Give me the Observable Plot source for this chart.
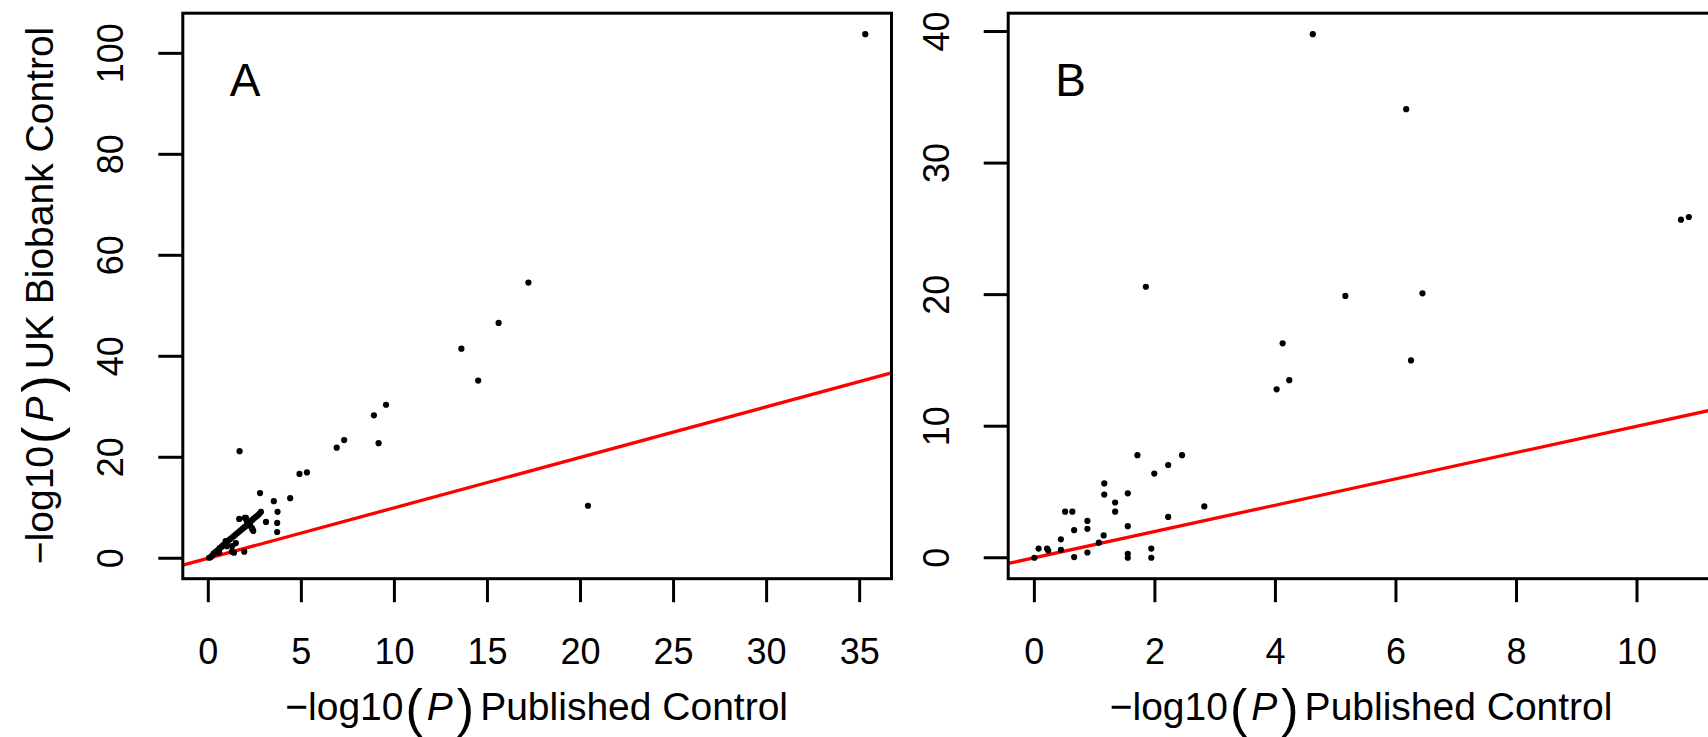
<!DOCTYPE html>
<html>
<head>
<meta charset="utf-8">
<script src="https://cdn.jsdelivr.net/npm/d3@7"></script>
<script src="https://cdn.jsdelivr.net/npm/@observablehq/plot@0.6"></script>
<style>
html, body { margin: 0; padding: 0; background: #fff; overflow: hidden; }
#wrap { position: relative; width: 1708px; height: 737px; overflow: hidden; background: #fff; }
#wrap svg { position: absolute; top: 0; }
#wrap svg g[aria-label^="x-axis"] path, #wrap svg g[aria-label^="y-axis"] path,
#wrap svg g[aria-label^="x-axis"] line, #wrap svg g[aria-label^="y-axis"] line { stroke-width: 3px; stroke: #000; }
</style>
</head>
<body>
<div id="wrap"></div>
<script>
// ---------- data ----------
const panelLabels = ["A", "B"];
const xTitleRest = "Published Control";
const yTitleRest = "UK Biobank Control";

// Panel A: -log10(P) published control (x) vs UK Biobank control (y)
const xA = [35.3, 17.2, 15.6, 13.6, 14.5, 9.55, 8.9, 9.15, 7.3, 6.9, 1.68, 4.9, 5.3, 20.4,
  2.78, 3.52, 4.4, 3.72, 3.1, 3.7, 3.7, 1.66, 2.02, 1.93, 1.27, 1.48,
  0.04, 0.12, 0.2, 0.28, 0.35, 0.45, 0.55, 0.62, 0.72, 0.8, 0.9, 1.0, 1.08, 1.18, 1.28, 1.38,
  1.47, 1.56, 1.66, 1.76, 1.86, 1.96, 2.06, 2.16, 2.26, 2.36, 2.46, 2.56, 2.66, 2.74, 2.83,
  1.96, 2.06, 2.16, 2.26, 2.36, 2.42, 0.58, 1.0, 1.28, 1.38, 0.93, 2.37];
const yA = [103.8, 54.6, 46.6, 41.5, 35.2, 30.4, 28.3, 22.8, 23.4, 21.9, 21.2, 16.7, 17.0, 10.4,
  12.9, 11.3, 11.9, 9.2, 7.2, 7.0, 5.2, 7.8, 8.0, 1.3, 1.3, 3.0,
  0.1, 0.2, 0.5, 0.9, 1.1, 1.4, 1.7, 2.0, 2.3, 2.6, 2.9, 3.2, 3.5, 3.8, 4.1, 4.4,
  4.7, 5.0, 5.3, 5.6, 5.9, 6.2, 6.5, 6.9, 7.2, 7.6, 7.9, 8.2, 8.5, 8.8, 9.2,
  8.0, 7.5, 7.0, 6.4, 5.9, 5.4, 1.1, 2.4, 2.4, 1.1, 3.4, 5.7];

// Panel B
const xB = [4.62, 6.17, 10.73, 10.86, 1.85, 5.16, 6.44, 4.12, 6.25, 4.23, 4.02,
  1.71, 2.45, 2.22, 1.99, 1.16, 1.16, 1.55, 1.34, 1.34, 0.51, 0.63, 2.82, 2.22,
  0.88, 0.88, 0.66, 1.55, 1.15, 1.07, 0.44, 0.07, 0.21, 0.23, 0.44, 0.88, 0.0,
  0.66, 1.55, 1.55, 1.94, 1.94];
const yB = [39.8, 34.1, 25.7, 25.9, 20.6, 19.9, 20.1, 16.3, 15.0, 13.5, 12.8,
  7.8, 7.8, 7.05, 6.4, 5.65, 4.8, 4.9, 4.2, 3.5, 3.5, 3.5, 3.9, 3.1,
  2.8, 2.2, 2.1, 2.4, 1.7, 1.15, 1.4, 0.7, 0.7, 0.55, 0.6, 0.4, 0.0,
  0.05, 0.3, 0.0, 0.7, 0.0];

const xTicksA = [0, 5, 10, 15, 20, 25, 30, 35];
const yTicksA = [0, 20, 40, 60, 80, 100];
const xTicksB = [0, 2, 4, 6, 8, 10];
const yTicksB = [0, 10, 20, 30, 40];

// ---------- helpers ----------
const FONT = "'Liberation Sans', Arial, Helvetica, sans-serif";
const H = 737, MT = 12.7, MB = 158.8;

function rangeExt(arr) { // R's default 4% axis extension
  const lo = d3.min(arr), hi = d3.max(arr), p = 0.04 * (hi - lo);
  return [lo - p, hi + p];
}

function addTitle(svg, x, y, rotate, rest) {
  const t = d3.select(svg).append("text")
    .attr("transform", `translate(${x},${y}) rotate(${rotate})`)
    .attr("text-anchor", "middle")
    .attr("font-family", FONT)
    .attr("font-size", 39)
    .attr("fill", "black");
  t.append("tspan").text("\u2212log10");
  t.append("tspan").attr("font-size", 52).attr("font-weight", 300).attr("dy", 6).attr("dx", 2).text("(");
  t.append("tspan").attr("font-style", "italic").attr("dy", -6).attr("dx", 4).text("P");
  t.append("tspan").attr("font-size", 52).attr("font-weight", 300).attr("dy", 6).attr("dx", 4).text(")");
  t.append("tspan").attr("dy", -6).attr("dx", 6).text(rest);
}

function panel({xs, ys, xTicks, yTicks, label, left, width, marginLeft, marginRight, yTitle}) {
  const data = xs.map((x, i) => ({x, y: ys[i]}));
  const xd = rangeExt(xs), yd = rangeExt(ys);
  const diag = [{v: xd[0]}, {v: xd[1]}];
  const svg = Plot.plot({
    width, height: H, marginLeft, marginRight, marginTop: MT, marginBottom: MB,
    style: {fontFamily: FONT, color: "black", background: "white"},
    x: {domain: xd, ticks: xTicks, tickSize: 24, tickFormat: () => "", label: null},
    y: {domain: yd, ticks: yTicks, tickSize: 24, tickFormat: () => "", label: null},
    marks: [
      Plot.line(diag, {x: "v", y: "v", stroke: "#ff0000", strokeWidth: 3.3, clip: true}),
      Plot.dot(data, {x: "x", y: "y", r: 3.1, fill: "black", stroke: null}),
      Plot.frame({stroke: "black", strokeWidth: 3}),
      Plot.text(xTicks, {x: d => d, text: d => String(d), frameAnchor: "bottom", dy: 60, lineAnchor: "top", fontSize: 36, fill: "black"}),
      Plot.text(yTicks, {y: d => d, text: d => String(d), frameAnchor: "left", dx: -71, rotate: -90, textAnchor: "middle", lineAnchor: "middle", fontSize: 36, fill: "black"}),
      Plot.text([label], {text: d => d, frameAnchor: "top-left", dx: 47, dy: 83, textAnchor: "start", lineAnchor: "bottom", fontSize: 46, fill: "black"})
    ]
  });
  svg.style.left = left + "px";
  const fl = marginLeft, fr = width - marginRight;
  addTitle(svg, (fl + fr) / 2, 720, 0, xTitleRest);
  if (yTitle) addTitle(svg, 53, (MT + (H - MB)) / 2, -90, yTitle);
  document.getElementById("wrap").appendChild(svg);
}

panel({xs: xA, ys: yA, xTicks: xTicksA, yTicks: yTicksA, label: panelLabels[0],
  left: 0, width: 900, marginLeft: 182.3, marginRight: 9, yTitle: yTitleRest});
panel({xs: xB, ys: yB, xTicks: xTicksB, yTicks: yTicksB, label: panelLabels[1],
  left: 900, width: 820, marginLeft: 107.7, marginRight: 5.5, yTitle: null});
</script>
</body>
</html>
